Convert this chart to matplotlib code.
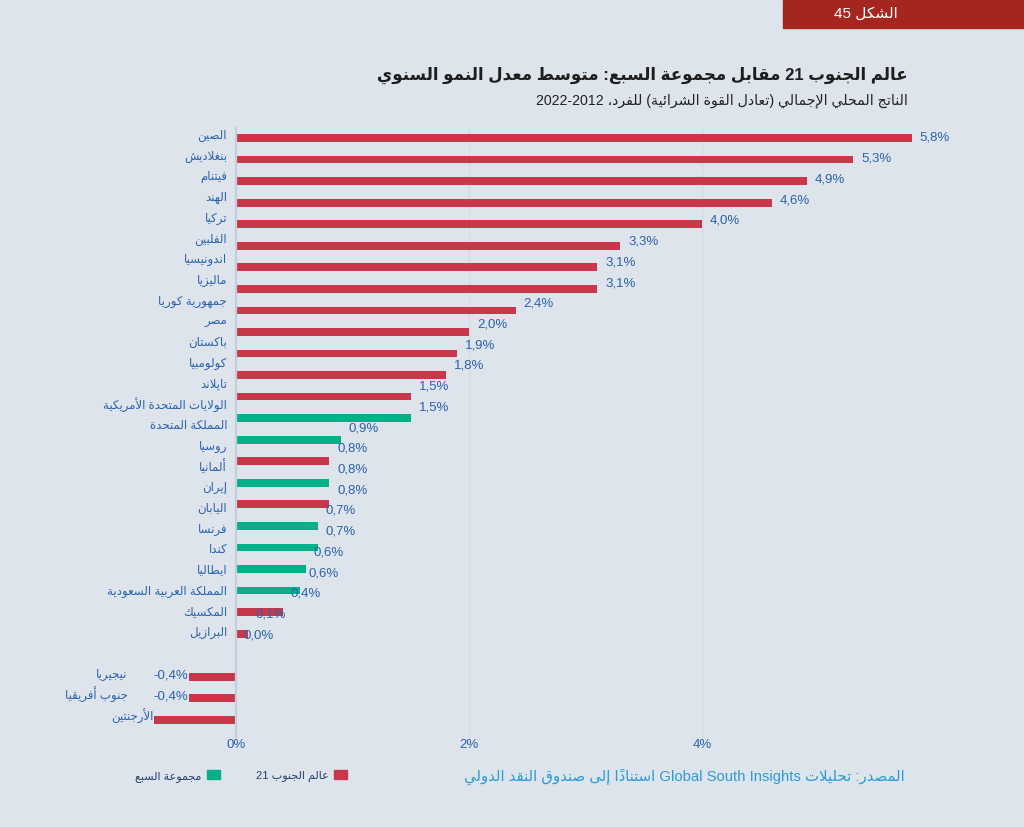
import re

import numpy as np
import matplotlib
matplotlib.use('Agg')
from matplotlib import pyplot as plt
from matplotlib.patches import Rectangle, Patch

# data, top to bottom
countries = ['الصين', 'بنغلاديش', 'فيتنام', 'الهند', 'تركيا', 'الفلبين', 'اندونيسيا',
             'ماليزيا', 'جمهورية كوريا', 'مصر', 'باكستان', 'كولومبيا', 'تايلاند',
             'الولايات المتحدة الأمريكية', 'المملكة المتحدة', 'روسيا', 'ألمانيا', 'إيران',
             'اليابان', 'فرنسا', 'كندا', 'ايطاليا', 'المملكة العربية السعودية', 'المكسيك',
             'البرازيل']
growth = [5.8, 5.3, 4.9, 4.6, 4.0, 3.3, 3.1, 3.1, 2.4, 2.0, 1.9, 1.8, 1.5,
          1.5, 0.9, 0.8, 0.8, 0.8, 0.7, 0.7, 0.6, 0.55, 0.4, 0.1, 0.0]
groups = ['g21'] * 13 + ['g7', 'g7', 'g21', 'g7', 'g21', 'g7', 'g7', 'g7', 'g7',
                         'g21', 'g21', 'g21']

neg_countries = ['نيجيريا', 'جنوب أفريقيا', 'الأرجنتين']
neg_growth = [-0.4, -0.4, -0.7]
neg_groups = ['g21', 'g21', 'g21']

xticks = [0, 2, 4]
xtick_labels = ['0%', '2%', '4%']

group_names = {'g21': 'عالم الجنوب 21', 'g7': 'مجموعة السبع'}
colors = {'g21': '#C9374B', 'g7': '#05B088'}

title = 'عالم الجنوب 21 مقابل مجموعة السبع: متوسط معدل النمو السنوي'
subtitle = 'الناتج المحلي الإجمالي (تعادل القوة الشرائية) للفرد، 2012-2022'
source = 'المصدر: تحليلات Global South Insights استناداً إلى صندوق النقد الدولي'
fig_tag = 'الشكل 45'

# --- minimal arabic shaping + right-to-left ordering (matplotlib does none) ---
FORMS = {
    0x0621: (0xFE80, 1), 0x0622: (0xFE81, 2), 0x0623: (0xFE83, 2), 0x0624: (0xFE85, 2),
    0x0625: (0xFE87, 2), 0x0626: (0xFE89, 4), 0x0627: (0xFE8D, 2), 0x0628: (0xFE8F, 4),
    0x0629: (0xFE93, 2), 0x062A: (0xFE95, 4), 0x062B: (0xFE99, 4), 0x062C: (0xFE9D, 4),
    0x062D: (0xFEA1, 4), 0x062E: (0xFEA5, 4), 0x062F: (0xFEA9, 2), 0x0630: (0xFEAB, 2),
    0x0631: (0xFEAD, 2), 0x0632: (0xFEAF, 2), 0x0633: (0xFEB1, 4), 0x0634: (0xFEB5, 4),
    0x0635: (0xFEB9, 4), 0x0636: (0xFEBD, 4), 0x0637: (0xFEC1, 4), 0x0638: (0xFEC5, 4),
    0x0639: (0xFEC9, 4), 0x063A: (0xFECD, 4), 0x0641: (0xFED1, 4), 0x0642: (0xFED5, 4),
    0x0643: (0xFED9, 4), 0x0644: (0xFEDD, 4), 0x0645: (0xFEE1, 4), 0x0646: (0xFEE5, 4),
    0x0647: (0xFEE9, 4), 0x0648: (0xFEED, 2), 0x0649: (0xFEEF, 2), 0x064A: (0xFEF1, 4),
}
LAM_ALEF = {0x0622: 0xFEF5, 0x0623: 0xFEF7, 0x0625: 0xFEF9, 0x0627: 0xFEFB}


def is_mark(c):
    return 0x064B <= ord(c) <= 0x0652


def shape(s):
    out = []
    joins = False
    i = 0
    while i < len(s):
        c = s[i]
        o = ord(c)
        if is_mark(c):
            out.append(c)
            i += 1
            continue
        if o not in FORMS:
            out.append(c)
            joins = False
            i += 1
            continue
        j = i + 1
        while j < len(s) and is_mark(s[j]):
            j += 1
        if o == 0x0644 and j < len(s) and ord(s[j]) in LAM_ALEF:
            out.append(chr(LAM_ALEF[ord(s[j])] + (1 if joins else 0)))
            out.extend(s[i + 1:j])
            joins = False
            i = j + 1
            continue
        base, n = FORMS[o]
        nxt = s[j] if j < len(s) else None
        nxt_ok = n == 4 and nxt is not None and ord(nxt) in FORMS and ord(nxt) != 0x0621
        if n == 1:
            form = 0
        elif joins and nxt_ok:
            form = 3
        elif joins:
            form = 1
        elif nxt_ok:
            form = 2
        else:
            form = 0
        out.append(chr(base + form))
        joins = nxt_ok
        i += 1
    return ''.join(out)


LTR = re.compile(r'[A-Za-z0-9]+(?: [A-Za-z0-9]+)*')
MIRROR = str.maketrans('()', ')(')


def rtl(s):
    s = shape(s)
    parts = []
    pos = 0
    for m in LTR.finditer(s):
        parts.append(('r', s[pos:m.start()]))
        parts.append(('l', m.group()))
        pos = m.end()
    parts.append(('r', s[pos:]))
    out = []
    for kind, txt in reversed(parts):
        if kind == 'l':
            out.append(txt)
        else:
            cl = re.findall(r'.[\u064B-\u0652]*', txt, flags=re.S)
            out.append(''.join(reversed(cl)).translate(MIRROR))
    return ''.join(out)


AR = ['Liberation Sans', 'DejaVu Sans']
BLUE = '#2C62AA'

W, H = 1024, 827
fig = plt.figure(figsize=(W / 100, H / 100), dpi=100)
fig.patch.set_facecolor('#DDE4EC')

# axes placed in pixels: x=0 at 236px, 1% = 116.5px ; bar rows from 138px, 21.55px apart
X0, XS = 236, 116.5
Y0, YS = 138, 21.55
l, r, t, b = 100, 960, 125, 738
ax = fig.add_axes([l / W, 1 - b / H, (r - l) / W, (b - t) / H])
ax.set_xlim((l - X0) / XS, (r - X0) / XS)
ax.set_ylim((b - Y0) / YS, (t - Y0) / YS)
ax.patch.set_alpha(0)
for s in ax.spines.values():
    s.set_visible(False)

all_names = countries + neg_countries
all_vals = np.array(growth + neg_growth)
all_groups = groups + neg_groups
rows = np.arange(len(all_vals))
# text rows sit on a slightly tighter grid, with an empty slot before the negatives
slots = np.where(rows < len(countries), rows, rows + 1)
ty = (136 + 20.72 * slots - Y0) / YS

top_y, bot_y = (128 - Y0) / YS, (738 - Y0) / YS
for xv in xticks[1:]:
    ax.plot([xv, xv], [top_y, bot_y], color='#D2DAE4', lw=1, zorder=0)
ax.plot([0, 0], [top_y, bot_y], color='#C2CEDB', lw=1.6, zorder=3)

ax.barh(rows, all_vals, height=0.36, color=[colors[g] for g in all_groups], zorder=2)

VAL_FONT = dict(fontsize=9.5, family='Liberation Sans', color=BLUE, zorder=4)
for i, (name, v) in enumerate(zip(all_names, all_vals)):
    lab = f'{v:.1f}%'.replace('.', ',')
    if v >= 0:
        ax.text(-9 / XS, ty[i], rtl(name), ha='right', va='center', color=BLUE,
                fontsize=8.5, family=AR)
        ax.text(v + 8 / XS, ty[i] + 2 / YS, lab, ha='left', va='center', **VAL_FONT)
    else:
        if v > -0.5:
            ax.text(v - 1 / XS, ty[i] + 1 / YS, lab, ha='right', va='center', **VAL_FONT)
            nx = v - 62 / XS
        else:
            nx = v - 1 / XS
        ax.text(nx, ty[i], rtl(name), ha='right', va='center', color=BLUE,
                fontsize=8.5, family=AR)

ax.set_xticks(xticks)
ax.set_xticklabels(xtick_labels, color=BLUE, fontsize=9.5, family='Liberation Sans')
ax.tick_params(axis='x', length=0, pad=1)
ax.set_yticks([])

# header
fig.text(908 / W, 1 - 75 / H, rtl(title), ha='right', va='center', fontsize=12,
         fontweight='bold', color='#1E1E1E', family=AR)
fig.text(908 / W, 1 - 101 / H, rtl(subtitle), ha='right', va='center', fontsize=10.2,
         color='#222222', family=AR)

fig.patches.append(Rectangle((783 / W, 1 - 28 / H), (W - 783) / W, 28 / H,
                             transform=fig.transFigure, color='#A4271F'))
fig.text(866 / W, 1 - 14 / H, rtl(fig_tag), ha='center', va='center', fontsize=11,
         color='white', family=AR)

# legend + source
handles = [Patch(color=colors[g]) for g in ['g7', 'g21']]
leg = fig.legend(handles, [rtl(group_names[g]) for g in ['g7', 'g21']], ncol=2,
                 markerfirst=False, frameon=False, loc='center',
                 bbox_to_anchor=(241 / W, 1 - 776 / H), handlelength=1.2, handleheight=0.8,
                 handletextpad=0.5, columnspacing=3.2,
                 prop={'family': AR, 'size': 8})
for txt in leg.get_texts():
    txt.set_color('#24406E')
fig.text(905 / W, 1 - 777 / H, rtl(source), ha='right', va='center', fontsize=10.7,
         color='#2A9BD6', family=AR)

fig.savefig('out.png', dpi=100, facecolor=fig.get_facecolor())
